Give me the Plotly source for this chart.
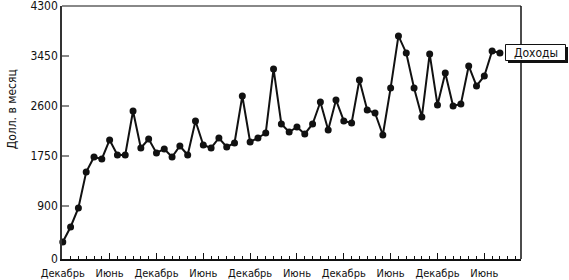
import plotly.graph_objects as go

values = [289, 544, 867, 1479, 1734, 1700, 2023, 1768, 1768, 2516,
          1887, 2040, 1802, 1870, 1734, 1921, 1768, 2346, 1938, 1887,
          2057, 1904, 1972, 2771, 1989, 2057, 2142, 3230, 2295, 2159,
          2244, 2125, 2295, 2669, 2193, 2703, 2346, 2312, 3043, 2533,
          2482, 2108, 2907, 3791, 3502, 2907, 2414, 3485, 2618, 3162,
          2601, 2635, 3281, 2941, 3111, 3536, 3502]
months = list(range(len(values)))
tick_pos = [0, 6, 12, 18, 24, 30, 36, 42, 48, 54]
tick_text = ["Декабрь", "Июнь"] * 5
y_ticks = [0, 900, 1750, 2600, 3450, 4300]
series_name = "Доходы"
y_title = "Долл. в месяц"

font_family = "Liberation Sans Narrow, DejaVu Sans Condensed, Roboto"

fig = go.Figure()
fig.add_trace(go.Scatter(
    x=months, y=values, mode="lines+markers",
    line=dict(color="#111", width=2),
    marker=dict(color="#111", size=7),
    showlegend=False, cliponaxis=False,
))

fig.update_layout(
    width=569, height=280,
    margin=dict(l=62, r=48, t=6, b=21, autoexpand=False),
    paper_bgcolor="white", plot_bgcolor="white",
    font=dict(family=font_family, size=11, color="#111"),
    xaxis=dict(
        range=[-0.1, 58.7], showgrid=False, zeroline=False,
        showline=True, linecolor="#111", linewidth=1.5,
        tickmode="array", tickvals=tick_pos, ticktext=tick_text,
        ticks="inside", ticklen=6, tickcolor="#111", tickwidth=1,
        minor=dict(dtick=1, tick0=0, ticks="inside", ticklen=3,
                   tickcolor="#111", tickwidth=1),
        tickfont=dict(size=11), ticklabelstandoff=3,
        ticklabeloverflow="allow", automargin=False,
    ),
    yaxis=dict(
        range=[0, 4300], showgrid=False, zeroline=False,
        showline=True, linecolor="#333", linewidth=1.5,
        tickmode="array", tickvals=y_ticks,
        ticks="inside", ticklen=7, tickcolor="#888", tickwidth=1.5,
        tickfont=dict(size=12), ticklabeloverflow="allow", automargin=False,
    ),
)

# top gray border and right black border
fig.add_shape(type="line", xref="paper", yref="paper", x0=0, x1=1, y0=1, y1=1,
              line=dict(color="#888", width=2))
fig.add_shape(type="line", xref="paper", yref="paper", x0=1, x1=1, y0=0, y1=1,
              line=dict(color="#111", width=1.5))

# y title
fig.add_annotation(text=y_title, xref="paper", yref="paper",
                   x=-0.11, y=0.59, textangle=-90, showarrow=False,
                   font=dict(size=12, family=font_family),
                   xanchor="center", yanchor="middle")

# legend box with shadow
pw = 569 - 62 - 48
ph = 280 - 6 - 21
def px_x(p):
    return (p - 62) / pw
def px_y(p):
    return (259 - p) / ph
fig.add_shape(type="rect", xref="paper", yref="paper",
              x0=px_x(508), x1=px_x(568), y0=px_y(63), y1=px_y(47),
              fillcolor="#111", line=dict(width=0))
fig.add_shape(type="rect", xref="paper", yref="paper",
              x0=px_x(505.5), x1=px_x(565.5), y0=px_y(60.5), y1=px_y(44.5),
              fillcolor="white", line=dict(color="#111", width=1))
fig.add_annotation(text=series_name, xref="paper", yref="paper",
                   x=px_x(535.5), y=px_y(52.5), showarrow=False,
                   font=dict(size=12, family=font_family),
                   xanchor="center", yanchor="middle")

fig.write_html("out.html")
